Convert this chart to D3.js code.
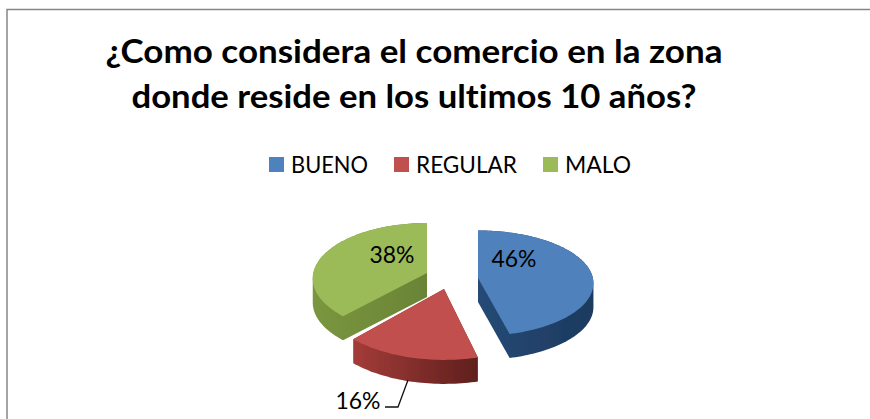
<!DOCTYPE html>
<html><head><meta charset="utf-8">
<script src="https://cdn.jsdelivr.net/npm/d3@7"></script>
<style>html,body{margin:0;padding:0;background:#fff}svg{display:block}text{font-family:Lato,"Open Sans",sans-serif;fill:#000;font-variant-ligatures:none}</style>
</head><body><div id="chart"></div>
<script>
const categories = ["BUENO","REGULAR","MALO"];
const values = [46,16,38];
const titleLines = ["¿Como considera el comercio en la zona","donde reside en los ultimos 10 años?"];

const topColors = ["#4f81bd","#c0504d","#9bbb59"];
const wallLeft  = ["#254a75","#a33c39","#7a963f"];
const wallRight = ["#1d3a5e","#5f1f1d","#6a8436"];

const W=870,H=419;
const svg=d3.select("#chart").append("svg").attr("width",W).attr("height",H);
const defs=svg.append("defs");
defs.append("filter").attr("id","soft").append("feGaussianBlur").attr("stdDeviation",0.6);
categories.forEach((c,i)=>{
  const g=defs.append("linearGradient").attr("id","wall"+i);
  g.append("stop").attr("offset","0%").attr("stop-color",wallLeft[i]);
  g.append("stop").attr("offset","100%").attr("stop-color",wallRight[i]);
});

svg.append("path").attr("d",`M7,${H}V9.5H${W}`).attr("fill","none").attr("stroke","#868686").attr("stroke-width",1.5);

svg.append("g").selectAll("text").data(titleLines).join("text")
  .attr("x",414).attr("y",(d,i)=>63+i*45)
  .attr("text-anchor","middle").attr("font-size",32).attr("font-weight",700).attr("textLength",(d,i)=>i?565:617).attr("lengthAdjust","spacingAndGlyphs").text(d=>d);

// legend
const legendX=d3.scaleOrdinal().domain(categories).range([269,394,543]);
const legendW=d3.scaleOrdinal().domain(categories).range([77,101,66]);
const lg=svg.append("g").selectAll("g").data(categories).join("g").attr("transform",d=>`translate(${legendX(d)},157)`);
lg.append("rect").attr("width",15).attr("height",15).attr("fill",(d,i)=>topColors[i]);
lg.append("text").attr("x",22).attr("y",15.5).attr("font-size",24).attr("textLength",d=>legendW(d)).attr("lengthAdjust","spacingAndGlyphs").text(d=>d);

// pie: angles from d3.pie, projected onto a tilted plane
const pie=d3.pie().sort(null).value(d=>d)(values);
const rx=116, ry=55, k=0.10, depth=24;
const cx=452, cy=280;
const sliceOffset=[[26,-2],[-8,9],[-25,-7]];   // explosion on screen
const sliceScale=[[0.99,0.95],[1.06,1.16],[0.98,1.0]];
function project(i,a,r){
  const X=r*Math.sin(a),Y=r*Math.cos(a),f=1/(1+k*Y);
  return [cx+sliceOffset[i][0]+rx*sliceScale[i][0]*X*f, cy+sliceOffset[i][1]-ry*sliceScale[i][1]*Y*f];
}
const gp=svg.append("g").attr("filter","url(#soft)");
const line=d3.line();
[0,2,1].forEach(i=>{
  const s=pie[i];
  const n=Math.ceil((s.endAngle-s.startAngle)*40);
  const pts=[project(i,0,0),...d3.range(n+1).map(j=>project(i,s.startAngle+(s.endAngle-s.startAngle)*j/n,1))];
  const hull=d3.polygonHull([...pts,...pts.map(p=>[p[0],p[1]+depth])]);
  const g=gp.append("g");
  g.append("path").attr("d",line(hull)+"Z").attr("fill",`url(#wall${i})`);
  g.append("path").attr("d",line(pts)+"Z").attr("fill",topColors[i]);
});

// data labels
const labelPos=[[514,258],[358,400],[392,254]];
svg.append("g").selectAll("text").data(values).join("text")
  .attr("x",(d,i)=>labelPos[i][0]).attr("y",(d,i)=>labelPos[i][1]+8.5)
  .attr("text-anchor","middle").attr("font-size",24).attr("textLength",45).attr("lengthAdjust","spacingAndGlyphs").text(d=>d+"%");

svg.append("path").attr("d",line([[408,380],[398,407],[385,407]])).attr("fill","none").attr("stroke","#111").attr("stroke-width",1.3);
</script></body></html>
